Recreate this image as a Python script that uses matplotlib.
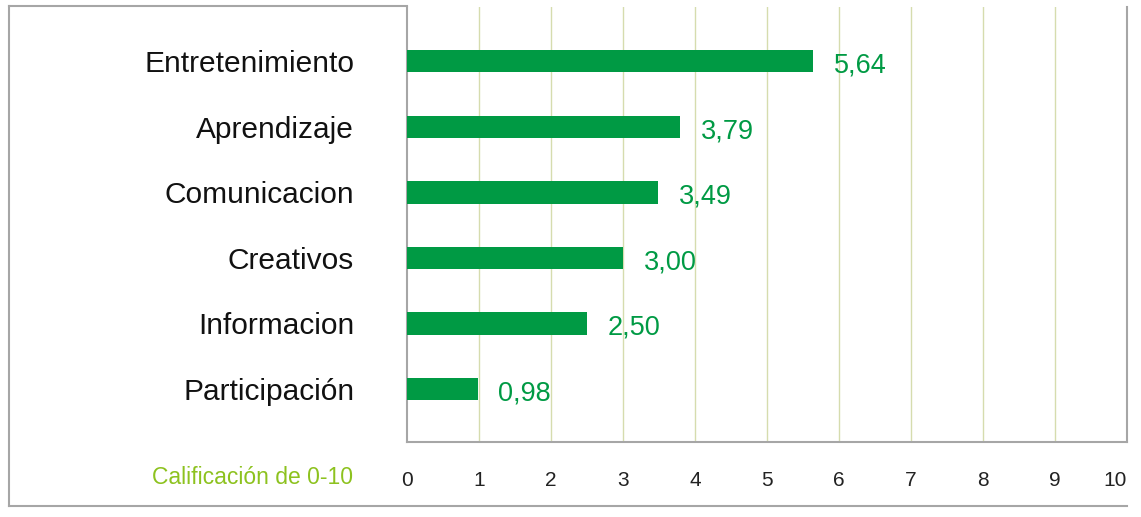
import matplotlib
matplotlib.use("Agg")
import matplotlib.pyplot as plt
from matplotlib.lines import Line2D

# --- Data ---
categories = ["Participación", "Informacion", "Creativos",
              "Comunicacion", "Aprendizaje", "Entretenimiento"]
scores = [0.98, 2.50, 3.00, 3.49, 3.79, 5.64]
labels = ["0,98", "2,50", "3,00", "3,49", "3,79", "5,64"]
xticks = list(range(0, 11))

GREEN = "#009a44"
LIME = "#8dc21f"
GRID = "#d6dcae"
FRAME = "#a6a6a6"

plt.rcParams['font.family'] = ['Liberation Sans', 'DejaVu Sans']

fig = plt.figure(figsize=(11.41, 5.17), dpi=100)
ax = fig.add_axes([0.3567, 0.1451, 0.9877 - 0.3567, 0.9865 - 0.1451])

y = list(range(len(categories)))
ax.barh(y, scores, height=0.34, color=GREEN, zorder=3)

for yi, v, lab in zip(y, scores, labels):
    ax.annotate(lab, (v, yi), xytext=(15, -3), textcoords="offset points",
                ha="left", va="center", fontsize=19.5, color=GREEN)

ax.set_xlim(0, 10)
ax.set_ylim(-0.81, 5.83)
ax.set_xticks(xticks)
ax.set_xticklabels([str(t) for t in xticks], fontsize=15, color="#222222")
ax.set_yticks(y)
ax.set_yticklabels(categories, fontsize=21.5, color="#111111")
ax.tick_params(axis="x", length=0, pad=21)
ax.tick_params(axis="y", length=0, pad=38)
ax.get_xticklabels()[-1].set_horizontalalignment("right")

for t in xticks[1:-1]:
    ax.axvline(t, color=GRID, lw=1, zorder=1)

ax.spines["top"].set_visible(False)
for s in ["left", "bottom", "right"]:
    ax.spines[s].set_color(FRAME)
    ax.spines[s].set_linewidth(1.5)

# outer frame pieces
fig.add_artist(Line2D([9/1141, 9/1141], [1 - 6/517, 1 - 506/517],
                      color=FRAME, lw=1.5, transform=fig.transFigure))
fig.add_artist(Line2D([9/1141, 407/1141], [1 - 6/517, 1 - 6/517],
                      color=FRAME, lw=1.5, transform=fig.transFigure))
fig.add_artist(Line2D([9/1141, 1127/1141], [1 - 506/517, 1 - 506/517],
                      color=FRAME, lw=1.5, transform=fig.transFigure))

fig.text(353/1141, 1 - 478/517, "Calificación de 0-10", ha="right", va="center",
         fontsize=16.5, color=LIME)

fig.savefig("out.png", dpi=100)
